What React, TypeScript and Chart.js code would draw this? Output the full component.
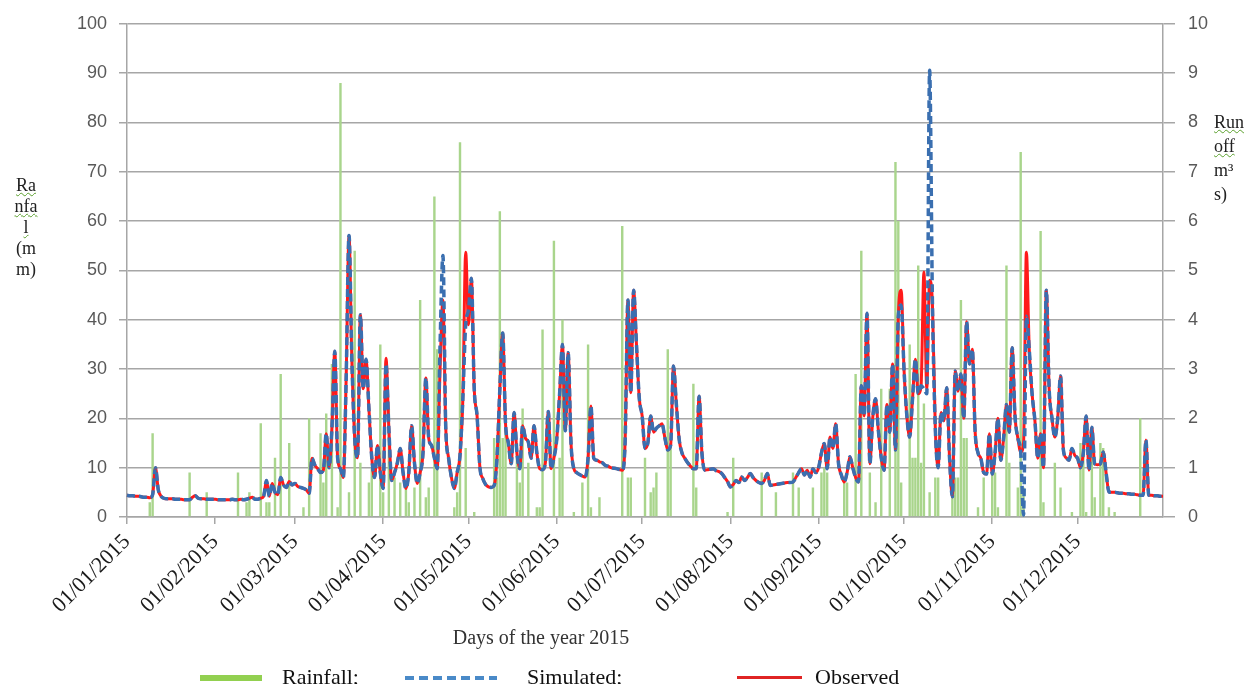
import React, { useEffect, useRef } from 'react';
import { Chart, registerables } from 'chart.js';

Chart.register(...registerables);

// ---------- categories ----------
const daysInMonth = [31, 28, 31, 30, 31, 30, 31, 31, 30, 31, 30, 31];
const monthTickLabels = [
  '01/01/2015', '01/02/2015', '01/03/2015', '01/04/2015', '01/05/2015', '01/06/2015',
  '01/07/2015', '01/08/2015', '01/09/2015', '01/10/2015', '01/11/2015', '01/12/2015',
];
const pad2 = (n: number) => (n < 10 ? '0' + n : '' + n);
const dayLabels: string[] = [];
daysInMonth.forEach((n, m) => {
  for (let d = 1; d <= n; d++) dayLabels.push(`${pad2(d)}/${pad2(m + 1)}/2015`);
});
const monthStartIdx = monthTickLabels.map((l) => dayLabels.indexOf(l));

// ---------- rainfall (mm), per day ----------
const rainJan = [0,0,0,0,0,0,0,0,3,17, 0,0,0,0,0,0,0,0,0,0, 0,0,9,0,0,0,0,0,5,0, 0];
const rainFeb = [0,0,0,0,0,0,0,0,9,0, 0,3,5,0,0,0,19,0,3,3, 0,12,0,29,0,0,15,0];
const rainMar = [0,0,0,2,0,20,0,0,0,17, 7,21,0,31,0,2,88,0,0,5, 0,54,0,11,0,0,7,10,0,0, 35];
const rainApr = [5,0,22,0,8,0,7,0,7,3, 0,6,0,44,0,4,6,0,65,34, 0,0,0,0,0,2,5,76,0,14];
const rainMay = [0,0,1,0,0,0,0,0,0,16, 8,62,16,18,0,0,0,15,7,22, 0,11,0,0,2,2,38,0,0,0, 56];
const rainJun = [0,12,40,0,0,0,1,0,0,7, 0,35,2,0,0,4,0,0,0,0, 0,0,0,59,0,8,8,0,0,0];
const rainJul = [0,12,0,5,6,9,0,0,0,34, 15,0,0,0,0,0,0,0,27,6, 0,0,0,0,0,0,0,0,0,0, 1];
const rainAug = [0,12,0,0,0,0,0,0,0,0, 0,9,0,0,0,0,5,0,0,0, 0,0,9,0,6,0,0,0,0,6, 0];
const rainSep = [0,9,10,9,0,0,0,0,0,7, 7,0,0,29,0,54,0,0,9,0, 3,0,26,0,0,26,0,72,60,7];
const rainOct = [0,0,35,12,12,51,11,23,0,5, 0,8,8,0,0,0,0,8,8,8, 44,16,16,0,0,0,2,0,8,0, 0];
const rainNov = [9,9,2,0,0,51,11,0,0,6, 74,6,0,0,0,0,0,58,3,0, 0,0,11,0,6,0,0,0,1,0];
const rainDec = [0,15,15,1,0,14,4,0,15,14, 0,2,0,1,0,0,0,0,0,0, 0,0,20,0,0,0,0,0,0,0, 0];

// ---------- observed runoff (m3/s), per day ----------
const obsJan = [0.44,0.43,0.43,0.42,0.42,0.41,0.40,0.40,0.39,0.45, 1.00,0.55,0.42,0.38,0.37,0.37,0.37,0.36,0.36,0.36, 0.35,0.35,0.35,0.40,0.43,0.38,0.37,0.37,0.36,0.36, 0.36];
const obsFeb = [0.36,0.35,0.35,0.35,0.35,0.35,0.36,0.35,0.35,0.36, 0.35,0.36,0.38,0.40,0.36,0.36,0.38,0.42,0.74,0.42, 0.68,0.50,0.45,0.80,0.65,0.60,0.72,0.65];
const obsMar = [0.68,0.62,0.60,0.58,0.55,0.48,1.19,1.05,0.98,0.90, 0.95,1.69,1.00,1.80,3.36,1.20,0.98,0.80,2.80,5.71, 3.20,1.60,1.20,4.10,2.60,3.20,2.20,1.20,0.80,1.45, 0.90];
const obsApr = [0.58,3.22,1.80,0.74,0.90,1.10,1.39,0.90,0.58,0.90, 1.85,1.10,0.68,0.90,1.30,2.82,1.60,1.45,1.20,0.98, 3.00,4.40,1.80,1.19,0.80,0.58,0.90,1.25,2.40,5.37];
const obsMay = [3.90,4.84,2.60,2.05,1.00,0.78,0.66,0.61,0.60,0.64, 1.20,2.60,3.73,1.89,1.50,1.08,2.12,1.30,0.98,1.85, 1.60,1.52,1.19,1.85,1.30,0.98,0.96,1.10,2.14,0.98, 1.20];
const obsJun = [1.58,2.50,3.50,1.75,3.33,1.50,0.98,0.90,0.86,0.83, 0.81,1.20,2.25,1.19,1.15,1.12,1.10,1.05,1.03,1.00, 0.99,0.98,0.96,0.95,1.50,4.40,2.52,4.60,3.50,2.40];
const obsJul = [2.05,1.39,1.50,2.05,1.72,1.80,1.85,1.89,1.60,1.36, 1.45,3.06,2.30,1.58,1.30,1.19,1.10,1.03,0.98,0.98, 2.45,1.30,0.95,0.96,0.97,0.98,0.94,0.92,0.88,0.80, 0.72];
const obsAug = [0.61,0.66,0.74,0.70,0.81,0.74,0.80,0.88,0.80,0.74, 0.70,0.68,0.75,0.88,0.64,0.65,0.66,0.67,0.68,0.69, 0.70,0.70,0.71,0.80,0.90,0.98,0.85,0.95,0.81,0.98, 0.90];
const obsSep = [1.00,1.30,1.49,0.98,1.62,1.39,1.89,1.08,0.85,0.71, 0.90,1.22,1.00,0.80,0.71,2.66,2.05,4.13,1.08,2.00, 2.40,1.75,1.20,0.95,2.28,1.72,3.10,1.36,4.07,4.60];
const obsOct = [3.00,2.05,1.62,2.40,3.20,2.50,2.66,4.97,2.60,4.80, 4.30,1.80,1.00,2.12,1.95,2.62,1.20,0.41,2.96,2.55, 2.90,2.00,3.96,3.10,3.40,1.72,1.30,1.19,0.90,0.87, 1.69];
const obsNov = [0.87,1.30,2.00,1.15,1.60,2.28,1.72,3.43,2.05,1.60, 1.32,1.50,5.37,3.40,2.50,1.95,1.19,1.69,1.00,4.60, 2.60,2.00,1.62,2.00,2.86,1.36,1.20,1.15,1.39,1.25];
const obsDec = [1.19,1.00,1.30,2.05,0.95,1.82,1.08,1.06,1.08,1.32, 0.90,0.51,0.50,0.50,0.49,0.48,0.48,0.47,0.47,0.46, 0.46,0.45,0.44,0.44,1.56,0.44,0.44,0.43,0.43,0.42, 0.42];

// ---------- simulated runoff (m3/s), per day ----------
const simJan = [0.44,0.43,0.43,0.42,0.42,0.41,0.40,0.40,0.39,0.45, 1.00,0.55,0.42,0.38,0.37,0.37,0.37,0.36,0.36,0.36, 0.35,0.35,0.35,0.40,0.43,0.38,0.37,0.37,0.36,0.36, 0.36];
const simFeb = [0.36,0.35,0.35,0.35,0.35,0.35,0.36,0.35,0.35,0.36, 0.35,0.36,0.38,0.40,0.36,0.36,0.38,0.42,0.74,0.42, 0.68,0.50,0.45,0.80,0.65,0.60,0.72,0.65];
const simMar = [0.68,0.62,0.60,0.58,0.55,0.48,1.19,1.05,0.98,0.90, 0.95,1.69,1.00,1.80,3.36,1.20,0.98,0.80,2.80,5.71, 3.20,1.60,1.20,4.10,2.60,3.20,2.20,1.20,0.80,1.45, 0.90];
const simApr = [0.58,3.10,1.80,0.74,0.90,1.10,1.39,0.90,0.58,0.90, 1.85,1.10,0.68,0.90,1.30,2.82,1.60,1.45,1.20,0.98, 3.50,5.30,1.80,1.19,0.80,0.58,0.90,1.25,2.40,3.90];
const simMay = [4.20,4.84,2.60,2.05,1.00,0.78,0.66,0.61,0.60,0.64, 1.20,2.60,3.73,1.89,1.50,1.08,2.12,1.30,0.98,1.85, 1.60,1.52,1.19,1.85,1.30,0.98,0.96,1.10,2.14,0.98, 1.20];
const simJun = [1.58,2.50,3.50,1.75,3.33,1.50,0.98,0.90,0.86,0.83, 0.81,1.20,2.25,1.19,1.15,1.12,1.10,1.05,1.03,1.00, 0.99,0.98,0.96,0.95,1.50,4.40,2.52,4.60,3.50,2.40];
const simJul = [2.05,1.39,1.50,2.05,1.72,1.80,1.85,1.89,1.60,1.36, 1.45,3.06,2.30,1.58,1.30,1.19,1.10,1.03,0.98,0.98, 2.45,1.30,0.95,0.96,0.97,0.98,0.94,0.92,0.88,0.80, 0.72];
const simAug = [0.61,0.66,0.74,0.70,0.81,0.74,0.80,0.88,0.80,0.74, 0.70,0.68,0.75,0.88,0.64,0.65,0.66,0.67,0.68,0.69, 0.70,0.70,0.71,0.80,0.90,0.98,0.85,0.95,0.81,0.98, 0.90];
const simSep = [1.00,1.30,1.49,0.98,1.62,1.39,1.89,1.08,0.85,0.71, 0.90,1.22,1.00,0.80,0.71,2.66,2.05,4.13,1.08,2.00, 2.40,1.75,1.20,0.95,2.28,1.72,3.10,1.36,4.07,4.30];
const simOct = [3.00,2.05,1.62,2.40,3.20,2.50,2.66,2.60,2.50,9.06, 4.30,1.80,1.00,2.12,1.95,2.62,1.20,0.41,2.96,2.55, 2.90,2.00,3.96,3.10,3.40,1.72,1.30,1.19,0.90,0.87, 1.69];
const simNov = [0.87,1.30,2.00,1.15,1.60,2.28,1.72,3.43,2.05,1.60, 1.32,0.04,4.07,3.40,2.50,1.95,1.19,1.69,1.00,4.60, 2.60,2.00,1.62,2.00,2.86,1.36,1.20,1.15,1.39,1.25];
const simDec = [1.19,1.00,1.30,2.05,0.95,1.82,1.08,1.06,1.08,1.32, 0.90,0.51,0.50,0.50,0.49,0.48,0.48,0.47,0.47,0.46, 0.46,0.45,0.44,0.44,1.56,0.44,0.44,0.43,0.43,0.42, 0.42];

const rainfall = [...rainJan, ...rainFeb, ...rainMar, ...rainApr, ...rainMay, ...rainJun, ...rainJul, ...rainAug, ...rainSep, ...rainOct, ...rainNov, ...rainDec];
const observed = [...obsJan, ...obsFeb, ...obsMar, ...obsApr, ...obsMay, ...obsJun, ...obsJul, ...obsAug, ...obsSep, ...obsOct, ...obsNov, ...obsDec];
const simulated = [...simJan, ...simFeb, ...simMar, ...simApr, ...simMay, ...simJun, ...simJul, ...simAug, ...simSep, ...simOct, ...simNov, ...simDec];

const leftTitleLines = ['Ra', 'nfa', 'l', '(m', 'm)'];
const rightTitleLines = ['Run', 'off', 'm³', 's)'];
const xTitle = 'Days of the year 2015';

const GRID = '#a6a6a6';
const AXIS_FONT = "'Liberation Sans', Arial, sans-serif";
const SERIF = "'Liberation Serif', 'Times New Roman', serif";

export default function App() {
  const canvasRef = useRef<HTMLCanvasElement | null>(null);

  useEffect(() => {
    const canvas = canvasRef.current;
    if (!canvas) return;
    const chart = new Chart(canvas, {
      type: 'bar',
      data: {
        labels: dayLabels,
        datasets: [
          {
            type: 'line',
            label: 'Simulated',
            data: simulated,
            yAxisID: 'y1',
            borderColor: '#3a6fb0',
            borderWidth: 3.5,
            borderDash: [8, 4],
            pointRadius: 0,
            cubicInterpolationMode: 'monotone',
            fill: false,
            order: 0,
          } as any,
          {
            type: 'line',
            label: 'Observed',
            data: observed,
            yAxisID: 'y1',
            borderColor: '#ff1a1a',
            borderWidth: 3,
            pointRadius: 0,
            cubicInterpolationMode: 'monotone',
            fill: false,
            order: 1,
          } as any,
          {
            type: 'bar',
            label: 'Rainfall',
            data: rainfall,
            yAxisID: 'y',
            backgroundColor: '#a9d58c',
            barPercentage: 0.85,
            categoryPercentage: 1.0,
            order: 2,
          } as any,
        ],
      },
      options: {
        responsive: false,
        maintainAspectRatio: false,
        devicePixelRatio: 1,
        animation: false,
        layout: { padding: { top: 20, left: 0, right: 0, bottom: 0 } },
        plugins: {
          legend: { display: false },
          tooltip: { enabled: false },
          title: { display: false },
        },
        scales: {
          x: {
            type: 'category',
            offset: false,
            grid: {
              display: true,
              drawOnChartArea: false,
              drawTicks: true,
              tickLength: 7,
              color: GRID,
              lineWidth: 1.5,
              offset: false,
            },
            border: { display: true, color: GRID, width: 1.5 },
            ticks: {
              autoSkip: false,
              maxRotation: 45,
              minRotation: 45,
              padding: 5,
              color: '#1a1a1a',
              font: { family: SERIF, size: 22 },
            },
            afterBuildTicks: (s: any) => {
              s.ticks = monthStartIdx.map((v) => ({ value: v }));
            },
            afterFit: (s: any) => {
              s.height = 167;
            },
          },
          y: {
            position: 'left',
            min: 0,
            max: 100,
            ticks: {
              stepSize: 10,
              padding: 12,
              color: '#595959',
              font: { family: AXIS_FONT, size: 18 },
            },
            grid: { color: GRID, lineWidth: 1.5, drawTicks: true, tickLength: 8 },
            border: { display: true, color: GRID, width: 1.5 },
            afterFit: (s: any) => {
              s.width = 127;
            },
          },
          y1: {
            position: 'right',
            min: 0,
            max: 10,
            ticks: {
              stepSize: 1,
              padding: 13,
              color: '#595959',
              font: { family: AXIS_FONT, size: 18 },
            },
            grid: { drawOnChartArea: false, color: GRID, lineWidth: 1.5, drawTicks: true, tickLength: 12 },
            border: { display: true, color: GRID, width: 1.5 },
            afterFit: (s: any) => {
              s.width = 96;
            },
          },
        },
      } as any,
    });
    return () => chart.destroy();
  }, []);

  const squiggle: React.CSSProperties = {
    textDecorationLine: 'underline',
    textDecorationStyle: 'wavy',
    textDecorationColor: '#5aa02c',
    textDecorationThickness: '1px',
  };

  return (
    <div style={{ position: 'absolute', left: 0, top: 0, width: 1259, height: 684, background: '#fff', overflow: 'hidden' }}>
      <canvas ref={canvasRef} width={1259} height={684} style={{ position: 'absolute', left: 0, top: 0, width: 1259, height: 684 }} />
      {/* left axis title */}
      <div style={{ position: 'absolute', left: 6, top: 175, width: 40, textAlign: 'center', fontFamily: SERIF, fontSize: 18, lineHeight: '21px', color: '#222' }}>
        {leftTitleLines.map((t, i) => (
          <div key={i} style={i < 3 ? squiggle : undefined}>{t}</div>
        ))}
      </div>
      {/* right axis title */}
      <div style={{ position: 'absolute', left: 1214, top: 110, fontFamily: SERIF, fontSize: 18, lineHeight: '24px', color: '#222' }}>
        {rightTitleLines.map((t, i) => (
          <div key={i} style={i < 2 ? squiggle : undefined}>{t}</div>
        ))}
      </div>
      {/* x axis title */}
      <div style={{ position: 'absolute', left: 431, top: 626, width: 220, textAlign: 'center', fontFamily: SERIF, fontSize: 20, lineHeight: '22px', color: '#333', whiteSpace: 'nowrap' }}>
        {xTitle}
      </div>
      {/* legend */}
      <div style={{ position: 'absolute', left: 200, top: 675, width: 62, height: 6, background: '#92d050' }} />
      <div style={{ position: 'absolute', left: 282, top: 665, fontFamily: SERIF, fontSize: 22, lineHeight: '24px', color: '#111' }}>Rainfall;</div>
      <div
        style={{
          position: 'absolute', left: 405, top: 676, width: 92, height: 4,
          background: 'repeating-linear-gradient(90deg, #4a8ac8 0 9px, transparent 9px 14px)',
        }}
      />
      <div style={{ position: 'absolute', left: 527, top: 665, fontFamily: SERIF, fontSize: 22, lineHeight: '24px', color: '#111' }}>Simulated;</div>
      <div style={{ position: 'absolute', left: 737, top: 676, width: 65, height: 3, background: '#e02424' }} />
      <div style={{ position: 'absolute', left: 815, top: 665, fontFamily: SERIF, fontSize: 22, lineHeight: '24px', color: '#111' }}>Observed</div>
    </div>
  );
}
